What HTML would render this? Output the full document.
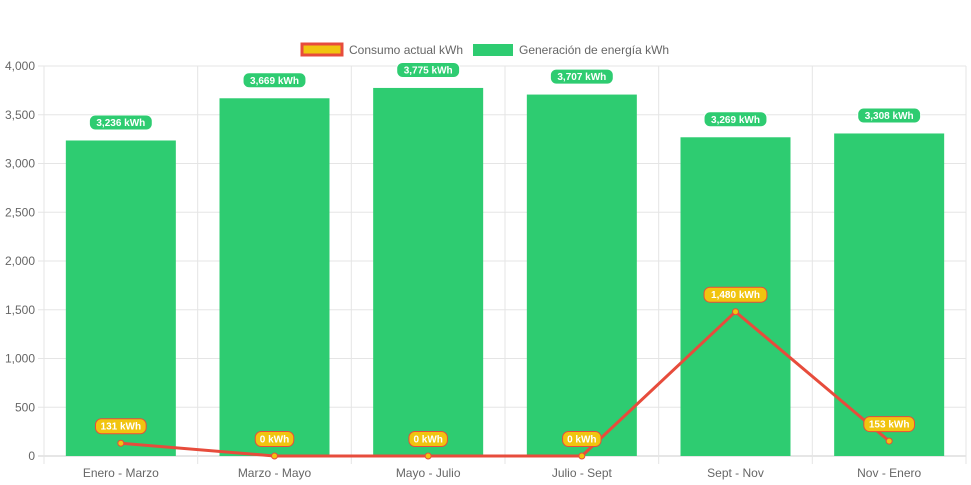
<!DOCTYPE html>
<html><head><meta charset="utf-8"><style>
body{margin:0;background:#fff;}
svg{display:block;font-family:"Liberation Sans",sans-serif;}
</style></head><body>
<svg id="chart" width="971" height="485"></svg>
<script>
const categories=["Enero - Marzo","Marzo - Mayo","Mayo - Julio","Julio - Sept","Sept - Nov","Nov - Enero"];
const generation=[3236,3669,3775,3707,3269,3308];
const consumption=[131,0,0,0,1480,153];
const yTicks=[0,500,1000,1500,2000,2500,3000,3500,4000];
const NS="http://www.w3.org/2000/svg";
const svg=document.getElementById('chart');
const L=44,R=966,T=66,B=456,YMAX=4000;
const bw=(R-L)/categories.length;
const x=i=>L+bw*(i+0.5);
const y=v=>B-(v/YMAX)*(B-T);
function mk(tag,a,parent){const e=document.createElementNS(NS,tag);for(const k in a)e.setAttribute(k,a[k]);(parent||svg).appendChild(e);return e;}
const fmt=v=>v.toLocaleString('en-US');
// grid
yTicks.forEach(t=>{
 const g=mk('line',{x1:L-6,x2:R,y1:y(t),y2:y(t),stroke:t===0?'#ccc':'#e5e5e5','stroke-width':1});
 
 
 const tx=mk('text',{x:L-9,y:y(t)+4,'text-anchor':'end','font-size':12,fill:'#666'});
 tx.textContent=fmt(t);
 
 
});
for(let i=0;i<=categories.length;i++){
 const g=mk('line',{x1:L+bw*i,x2:L+bw*i,y1:T,y2:B+8,stroke:'#e5e5e5','stroke-width':1});
 
 
}
// bars
const barW=110;
generation.forEach((v,i)=>{
 const r=mk('rect',{x:x(i)-barW/2,y:y(v),width:barW,height:B-y(v),fill:'#2ecc71'});
 
 
});
categories.forEach((c,i)=>{
 const t=mk('text',{x:x(i),y:477,'text-anchor':'middle','font-size':12,fill:'#666'});
 t.textContent=c;
 
 
});
// line
const pts=consumption.map((v,i)=>x(i)+','+y(v)).join(' ');
const pl=mk('polyline',{points:pts,fill:'none',stroke:'#e74c3c','stroke-width':3});


consumption.forEach((v,i)=>{
 const c=mk('circle',{cx:x(i),cy:y(v),r:3,fill:'#f1c40f',stroke:'#e74c3c','stroke-width':1});
 
 
});
function badge(cx,cy,text,fill,stroke,name){
 const w=text.length*6.1+8;
 const g=mk('g',{});
 
 
 mk('rect',{x:cx-w/2,y:cy-7.5,width:w,height:15,rx:6,fill:fill,stroke:stroke,'stroke-width':1},g);
 const t=mk('text',{x:cx,y:cy+3.5,'text-anchor':'middle','font-size':10,'font-weight':'bold',fill:'#fff'},g);
 t.textContent=text;
}
generation.forEach((v,i)=>badge(x(i),y(v)-18,fmt(v)+' kWh','#2ecc71','#fff','generation-value-label'));
consumption.forEach((v,i)=>badge(x(i),y(v)-17,fmt(v)+' kWh','#f1c40f','#e74c3c','consumption-value-label'));
// legend
const lg=mk('g',{});


const l1=mk('rect',{x:302,y:44,width:40,height:11,fill:'#f1c40f',stroke:'#e74c3c','stroke-width':3},lg);


const t1=mk('text',{x:349,y:54,'font-size':12,fill:'#666'},lg);t1.textContent='Consumo actual kWh';
const l2=mk('rect',{x:473,y:44,width:40,height:12,fill:'#2ecc71'},lg);


const t2=mk('text',{x:519,y:54,'font-size':12,fill:'#666'},lg);t2.textContent='Generación de energía kWh';
</script>
</body></html>
